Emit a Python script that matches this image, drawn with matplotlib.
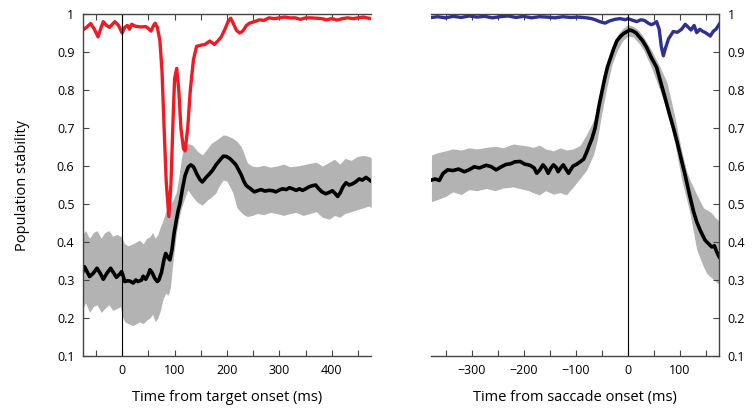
import numpy as np
import matplotlib.pyplot as plt
from matplotlib.ticker import MultipleLocator

plt.rcParams['font.family'] = ['Open Sans', 'DejaVu Sans']

RED = '#ed1c24'
BLUE = '#2e3192'
GRAY = '#b3b3b3'

# ---- left panel: aligned to target onset ----
red_t = [-75, -68, -60, -53, -46, -40, -36, -30, -24, -14, -7, 0, 5, 10, 14, 18, 25, 35, 45, 50,
         55, 60, 63, 67, 72, 76, 80, 84, 89, 93, 97, 100, 104, 108, 112, 117, 120, 125, 130, 136,
         142, 150, 158, 167, 176, 183, 189, 196, 202, 207, 212, 218, 224, 230, 237, 243, 252, 262,
         270, 280, 290, 300, 310, 320, 330, 340, 350, 360, 370, 380, 390, 400, 410, 420, 430, 440,
         450, 460, 470, 475]
red_v = [0.958, 0.965, 0.975, 0.96, 0.94, 0.965, 0.98, 0.97, 0.965, 0.98, 0.97, 0.95, 0.965, 0.97,
         0.96, 0.973, 0.968, 0.966, 0.967, 0.962, 0.955, 0.97, 0.976, 0.965, 0.93, 0.85, 0.70, 0.56,
         0.467, 0.55, 0.72, 0.83, 0.857, 0.80, 0.70, 0.645, 0.64, 0.70, 0.80, 0.88, 0.915, 0.918,
         0.92, 0.929, 0.92, 0.93, 0.94, 0.96, 0.98, 0.989, 0.975, 0.957, 0.95, 0.955, 0.97, 0.976,
         0.98, 0.985, 0.983, 0.99, 0.988, 0.99, 0.992, 0.99, 0.99, 0.986, 0.99, 0.99, 0.989, 0.988,
         0.985, 0.988, 0.984, 0.988, 0.99, 0.988, 0.99, 0.992, 0.989, 0.988]

blk_t = [-75, -72, -68, -62, -55, -48, -42, -36, -29, -22, -16, -11, -5, -1, 2, 5, 10, 15, 21, 26,
         30, 37, 40, 45, 50, 53, 57, 62, 67, 70, 75, 80, 83, 87, 91, 95, 99, 103, 107, 110, 115,
         120, 126, 131, 136, 142, 148, 153, 160, 167, 173, 179, 186, 193, 199, 205, 211, 217, 222,
         227, 232, 236, 240, 245, 252, 258, 265, 272, 280, 287, 293, 300, 306, 313, 319, 325, 332,
         338, 344, 350, 356, 362, 369, 375, 381, 388, 394, 401, 406, 411, 416, 421, 427, 433, 439,
         445, 452, 458, 465, 470, 475]
blk_v = [0.322, 0.335, 0.325, 0.309, 0.318, 0.331, 0.318, 0.302, 0.318, 0.331, 0.318, 0.307, 0.315,
         0.322, 0.31, 0.296, 0.298, 0.297, 0.292, 0.30, 0.296, 0.30, 0.31, 0.302, 0.315, 0.327, 0.32,
         0.305, 0.296, 0.30, 0.32, 0.355, 0.37, 0.36, 0.353, 0.38, 0.423, 0.455, 0.484, 0.50, 0.54,
         0.575, 0.597, 0.603, 0.598, 0.58, 0.565, 0.558, 0.57, 0.58, 0.59, 0.603, 0.615, 0.626,
         0.625, 0.62, 0.612, 0.603, 0.59, 0.577, 0.56, 0.55, 0.545, 0.54, 0.532, 0.535, 0.538, 0.534,
         0.536, 0.535, 0.532, 0.537, 0.54, 0.538, 0.543, 0.54, 0.536, 0.54, 0.536, 0.54, 0.545,
         0.548, 0.55, 0.54, 0.532, 0.527, 0.53, 0.535, 0.528, 0.52, 0.53, 0.545, 0.556, 0.55, 0.553,
         0.558, 0.566, 0.563, 0.57, 0.565, 0.56]

band_t = [-75, -70, -62, -55, -48, -40, -33, -25, -18, -10, -3, 0, 5, 12, 20, 27, 33, 40, 47, 53,
          58, 63, 68, 73, 78, 83, 88, 92, 97, 103, 108, 113, 118, 125, 134, 143, 153, 162, 170,
          179, 186, 193, 200, 211, 219, 227, 233, 239, 248, 258, 270, 282, 295, 308, 320, 332, 345,
          358, 370, 382, 395, 405, 415, 425, 437, 448, 460, 470, 475]
band_hi = [0.42, 0.43, 0.41, 0.425, 0.43, 0.41, 0.425, 0.43, 0.415, 0.42, 0.415, 0.41, 0.395, 0.39,
           0.395, 0.40, 0.405, 0.395, 0.41, 0.414, 0.425, 0.41, 0.42, 0.44, 0.457, 0.48, 0.49,
           0.50, 0.51, 0.53, 0.57, 0.62, 0.651, 0.66, 0.655, 0.64, 0.629, 0.645, 0.66, 0.668, 0.675,
           0.682, 0.68, 0.673, 0.665, 0.651, 0.63, 0.608, 0.60, 0.598, 0.602, 0.597, 0.60, 0.605,
           0.598, 0.60, 0.603, 0.607, 0.61, 0.60, 0.61, 0.618, 0.605, 0.62, 0.615, 0.625, 0.628,
           0.625, 0.622]
band_lo = [0.225, 0.24, 0.215, 0.23, 0.235, 0.215, 0.225, 0.235, 0.22, 0.225, 0.23, 0.205, 0.19,
           0.185, 0.18, 0.185, 0.19, 0.185, 0.195, 0.20, 0.21, 0.19, 0.20, 0.22, 0.25, 0.265, 0.26,
           0.28, 0.35, 0.42, 0.46, 0.49, 0.51, 0.537, 0.52, 0.505, 0.497, 0.51, 0.518, 0.53, 0.55,
           0.563, 0.56, 0.53, 0.49, 0.478, 0.471, 0.467, 0.47, 0.475, 0.472, 0.478, 0.475, 0.47,
           0.475, 0.478, 0.47, 0.475, 0.48, 0.465, 0.46, 0.47, 0.465, 0.475, 0.48, 0.485, 0.49,
           0.495, 0.49]

# ---- right panel: aligned to saccade onset ----
blue_t = [-377, -365, -350, -335, -320, -305, -290, -275, -260, -245, -230, -215, -200, -185,
          -170, -155, -140, -125, -110, -95, -79, -70, -63, -54, -44, -35, -25, -15, -5, 0, 8, 17,
          25, 32, 39, 45, 50, 55, 60, 64, 68, 72, 78, 87, 95, 103, 110, 116, 121, 127, 132, 138,
          143, 150, 158, 164, 169, 175]
blue_v = [0.991, 0.993, 0.99, 0.994, 0.991, 0.995, 0.992, 0.994, 0.99, 0.993, 0.995, 0.991, 0.994,
          0.99, 0.993, 0.992, 0.99, 0.993, 0.991, 0.992, 0.99, 0.988, 0.985, 0.98, 0.976, 0.982,
          0.986, 0.988, 0.985, 0.988, 0.984, 0.98, 0.985, 0.983, 0.976, 0.972, 0.975, 0.98, 0.96,
          0.915, 0.89, 0.91, 0.935, 0.954, 0.952, 0.96, 0.973, 0.965, 0.958, 0.97, 0.951, 0.96,
          0.955, 0.95, 0.942, 0.955, 0.96, 0.973]

sblk_t = [-377, -370, -362, -355, -346, -336, -325, -314, -305, -295, -285, -272, -262, -253, -243,
          -234, -225, -217, -207, -198, -188, -180, -175, -169, -163, -158, -153, -148, -143, -138,
          -134, -129, -124, -119, -114, -110, -105, -98, -92, -85, -79, -74, -69, -63, -56, -50,
          -44, -39, -34, -27, -21, -15, -9, -3, 4, 10, 16, 20, 28, 36, 45, 55, 63, 71, 79, 87, 95,
          103, 110, 119, 126, 132, 139, 148, 155, 161, 166, 170, 175]
sblk_v = [0.563, 0.566, 0.562, 0.58, 0.59, 0.588, 0.592, 0.585, 0.59, 0.598, 0.595, 0.602, 0.598,
          0.59, 0.598, 0.604, 0.606, 0.611, 0.612, 0.605, 0.602, 0.595, 0.581, 0.59, 0.603, 0.595,
          0.581, 0.594, 0.603, 0.597, 0.585, 0.595, 0.603, 0.592, 0.581, 0.59, 0.6, 0.605, 0.611,
          0.618, 0.637, 0.655, 0.672, 0.70, 0.755, 0.795, 0.834, 0.862, 0.882, 0.91, 0.93, 0.94,
          0.948, 0.953, 0.958, 0.955, 0.95, 0.943, 0.93, 0.912, 0.885, 0.86, 0.82, 0.781, 0.74,
          0.702, 0.66, 0.614, 0.575, 0.52, 0.48, 0.453, 0.43, 0.405, 0.395, 0.387, 0.39, 0.375,
          0.361]

sband_t = [-377, -365, -350, -336, -320, -305, -290, -272, -255, -240, -220, -205, -190, -182, -170,
           -158, -143, -130, -118, -105, -92, -79, -66, -59, -50, -40, -30, -20, -10, 0, 10, 20,
           30, 45, 60, 75, 90, 103, 113, 119, 132, 145, 151, 161, 167, 177]
sband_hi = [0.629, 0.635, 0.64, 0.645, 0.642, 0.648, 0.645, 0.649, 0.652, 0.648, 0.658, 0.655,
            0.652, 0.649, 0.655, 0.645, 0.64, 0.648, 0.642, 0.645, 0.654, 0.684, 0.72, 0.745, 0.81,
            0.87, 0.915, 0.945, 0.962, 0.972, 0.968, 0.958, 0.94, 0.905, 0.865, 0.82, 0.73, 0.64,
            0.585, 0.563, 0.525, 0.49, 0.485, 0.476, 0.465, 0.453]
sband_lo = [0.506, 0.512, 0.52, 0.532, 0.525, 0.538, 0.535, 0.541, 0.535, 0.542, 0.545, 0.54,
            0.535, 0.53, 0.524, 0.535, 0.526, 0.53, 0.524, 0.545, 0.567, 0.59, 0.63, 0.668, 0.74,
            0.81, 0.87, 0.905, 0.93, 0.942, 0.94, 0.925, 0.905, 0.86, 0.805, 0.745, 0.66, 0.565,
            0.51, 0.476, 0.38, 0.335, 0.318, 0.305, 0.298, 0.285]

fig = plt.figure(figsize=(7.53, 4.13), dpi=100)
axL = fig.add_axes([0.110, 0.138, 0.383, 0.828])
axR = fig.add_axes([0.573, 0.138, 0.382, 0.828])

axL.fill_between(band_t, band_lo, band_hi, color=GRAY, lw=0)
axL.plot(blk_t, blk_v, color='black', lw=2.6)
axL.plot(red_t, red_v, color=RED, lw=2.4)
axL.axvline(0, color='black', lw=0.8)
axL.set_xlim(-75, 475)

axR.fill_between(sband_t, sband_lo, sband_hi, color=GRAY, lw=0)
axR.plot(sblk_t, sblk_v, color='black', lw=2.6)
axR.plot(blue_t, blue_v, color=BLUE, lw=2.4)
axR.axvline(0, color='black', lw=0.8)
axR.set_xlim(-377, 175)

for ax in (axL, axR):
    ax.set_ylim(0.1, 1.0)
    ax.set_yticks(np.arange(0.1, 1.01, 0.1))
    ax.set_yticklabels(['0.1', '0.2', '0.3', '0.4', '0.5', '0.6', '0.7', '0.8', '0.9', '1'])
    ax.xaxis.set_major_locator(MultipleLocator(100))
    ax.xaxis.set_minor_locator(MultipleLocator(50))
    ax.tick_params(axis='both', which='both', direction='in', labelsize=9, color='#444444',
                   width=0.8, pad=6, length=4)
    for s in ax.spines.values():
        s.set_color('#444444')
        s.set_linewidth(1.0)

axL.spines['right'].set_visible(False)
axL.tick_params(axis='x', which='both', top=True)
axL.set_xlabel('Time from target onset (ms)', fontsize=10.5, labelpad=9)
axL.set_ylabel('Population stability', fontsize=10.5, labelpad=19)

axR.spines['left'].set_visible(False)
axR.yaxis.tick_right()
axR.tick_params(axis='y', which='both', left=False, right=True)
axR.tick_params(axis='x', which='both', top=True)
axR.set_xlabel('Time from saccade onset (ms)', fontsize=10.5, labelpad=9)

fig.savefig('out.png', dpi=100)
